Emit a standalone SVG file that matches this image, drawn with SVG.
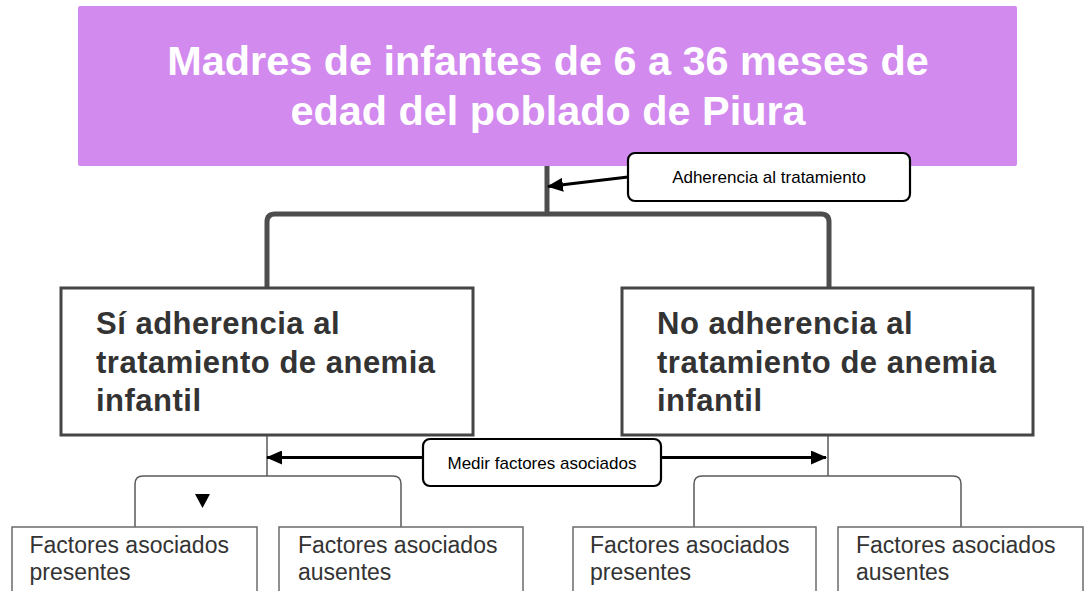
<svg xmlns="http://www.w3.org/2000/svg" width="1089" height="591" viewBox="0 0 1089 591">
<style>
.title{font-family:"Liberation Sans",Arial,sans-serif;font-weight:bold;font-size:41.4px;fill:#ffffff;text-anchor:middle}
.node{fill:#ffffff;stroke:#454545;stroke-width:3}
.nodetxt{font-family:"Liberation Sans",Arial,sans-serif;font-weight:bold;font-size:31px;fill:#333333;letter-spacing:0.5px}
.leaf{fill:#ffffff;stroke:#6b6b6b;stroke-width:1.5}
.leaftxt{font-family:"Liberation Sans",Arial,sans-serif;font-size:23px;fill:#333333}
.callout{fill:#ffffff;stroke:#000000;stroke-width:2.2}
.calltxt{font-family:"Liberation Sans",Arial,sans-serif;font-size:17px;fill:#000000;text-anchor:middle}
.thick{fill:none;stroke:#4d4d4d;stroke-width:5}
.thin{fill:none;stroke:#5a5a5a;stroke-width:1.5}
.arrow{fill:none;stroke:#000000;stroke-width:3;marker-end:url(#ah)}
</style>
<defs>
<marker id="ah" markerUnits="userSpaceOnUse" markerWidth="16" markerHeight="14" refX="15" refY="7" orient="auto">
<path d="M0,0 L16,7 L0,14 Z" fill="#000000"/>
</marker>
</defs>
<rect width="1089" height="591" fill="#ffffff"/>
<g id="connectors">
<path class="thick" d="M547,166 V214"/>
<path class="thick" d="M267,288 V222 Q267,214 275,214 H821 Q829,214 829,222 V288"/>
<path class="thin" d="M267,435 V476"/>
<path class="thin" d="M135,527 V484 Q135,476 143,476 H393 Q401,476 401,484 V527"/>
<path d="M195,494 L210,494 L202.5,508 Z" fill="#000000"/>
<path class="thin" d="M828,435 V476"/>
<path class="thin" d="M694,527 V484 Q694,476 702,476 H953 Q961,476 961,484 V527"/>
<path class="arrow" d="M628,177 L548,186.5"/>
<path class="arrow" d="M423,457.5 L267,457.5"/>
<path class="arrow" d="M661,457.5 L826,457.5"/>
</g>
<g id="root">
<rect x="78" y="6" width="939" height="160" rx="2" fill="#d28aef"/>
<text class="title" x="548" y="75">Madres de infantes de 6 a 36 meses de</text>
<text class="title" x="548" y="125">edad del poblado de Piura</text>
</g>
<g id="callout-adherencia">
<rect class="callout" x="628" y="153" width="282" height="48" rx="7"/>
<text class="calltxt" x="769" y="183">Adherencia al tratamiento</text>
</g>
<g id="si-adherencia">
<rect class="node" x="61" y="288" width="412" height="147"/>
<text class="nodetxt" x="96" y="334">Sí adherencia al</text>
<text class="nodetxt" x="96" y="372.5">tratamiento de anemia</text>
<text class="nodetxt" x="96" y="411">infantil</text>
</g>
<g id="no-adherencia">
<rect class="node" x="622" y="288" width="411" height="147"/>
<text class="nodetxt" x="657" y="334">No adherencia al</text>
<text class="nodetxt" x="657" y="372.5">tratamiento de anemia</text>
<text class="nodetxt" x="657" y="411">infantil</text>
</g>
<g id="callout-medir">
<rect class="callout" x="423" y="439" width="238" height="47" rx="7"/>
<text class="calltxt" x="542" y="469">Medir factores asociados</text>
</g>
<g id="si-presentes">
<rect class="leaf" x="12" y="527" width="245" height="80"/>
<text class="leaftxt" x="29.5" y="553">Factores asociados</text>
<text class="leaftxt" x="29.5" y="580">presentes</text>
</g>
<g id="si-ausentes">
<rect class="leaf" x="279" y="527" width="244" height="80"/>
<text class="leaftxt" x="298" y="553">Factores asociados</text>
<text class="leaftxt" x="298" y="580">ausentes</text>
</g>
<g id="no-presentes">
<rect class="leaf" x="573" y="527" width="243" height="80"/>
<text class="leaftxt" x="590" y="553">Factores asociados</text>
<text class="leaftxt" x="590" y="580">presentes</text>
</g>
<g id="no-ausentes">
<rect class="leaf" x="838" y="527" width="245" height="80"/>
<text class="leaftxt" x="856" y="553">Factores asociados</text>
<text class="leaftxt" x="856" y="580">ausentes</text>
</g>
</svg>
